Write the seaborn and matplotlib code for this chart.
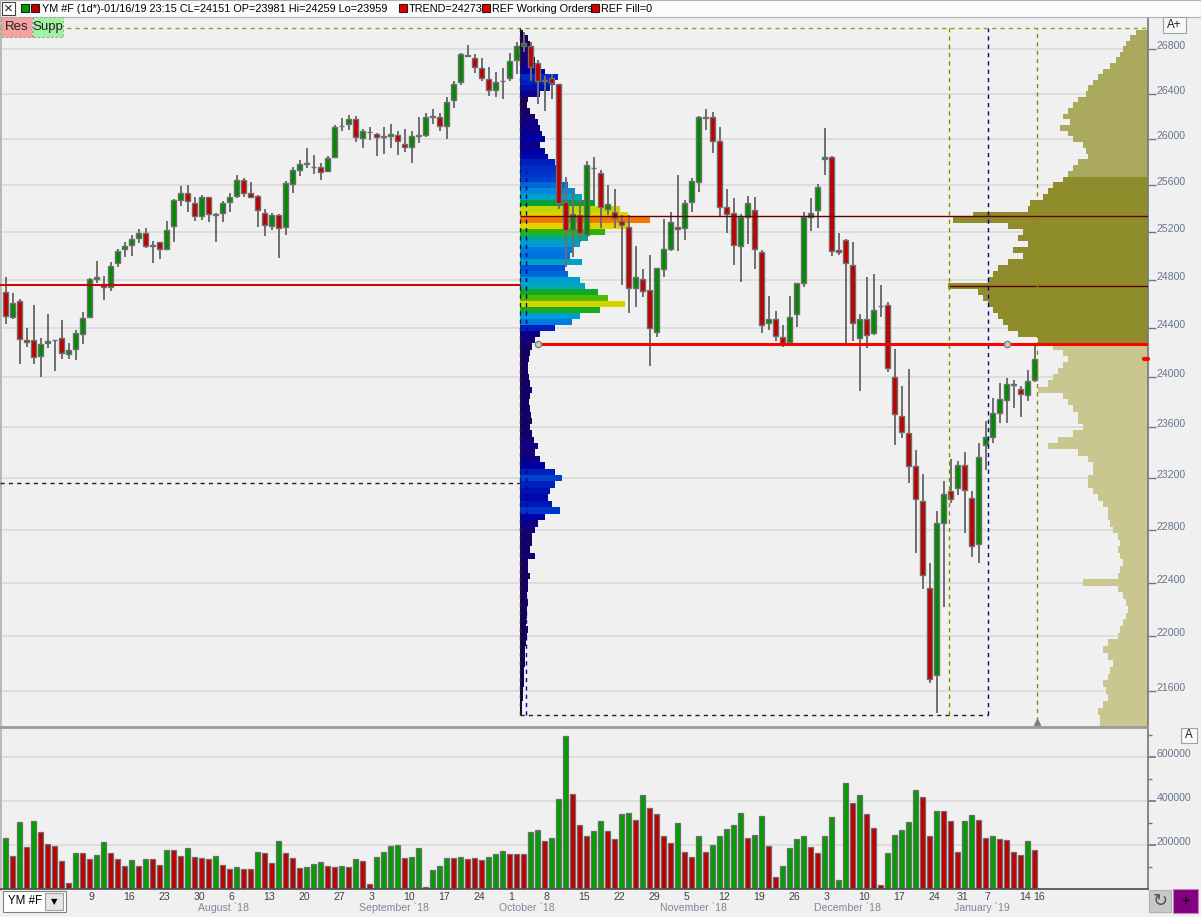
import numpy as np
import pandas as pd
import matplotlib
matplotlib.use('Agg')
import matplotlib.pyplot as plt
import matplotlib.patches as mpatches
from matplotlib.colors import LinearSegmentedColormap
from matplotlib.ticker import FixedLocator, NullLocator
import seaborn as sns

# ---- daily OHLC, YM #F, 2018-06-21 .. 2019-01-16 ----
opens = [24696, 24489, 24621, 24300, 24300, 24170, 24276, 24300, 24317, 24187,
         24228, 24352, 24489, 24809, 24767, 24737, 24938, 25055, 25089, 25148,
         25190, 25092, 25114, 25055, 25252, 25474, 25531, 25445, 25337, 25497,
         25354, 25360, 25454, 25505, 25643, 25531, 25508, 25360, 25255, 25346,
         25241, 25609, 25735, 25786, 25760, 25755, 25721, 25842, 26112, 26130,
         26180, 26007, 26063, 26048, 26024, 26025, 26033, 25960, 25929, 26030,
         26033, 26195, 26192, 26112, 26341, 26502, 26750, 26717, 26627, 26528,
         26430, 26510, 26538, 26699, 26830, 26830, 26678, 26510, 26538, 26484,
         25459, 25218, 25343, 25176, 25746, 25709, 25394, 25369, 25298, 25241,
         24729, 24803, 24715, 24371, 24887, 25055, 25240, 25233, 25454, 25632,
         26188, 26192, 25981, 25411, 25366, 25083, 25329, 25386, 25030, 24440,
         24477, 24330, 24284, 24516, 24775, 25331, 25389, 25824, 25842, 25050,
         25131, 24921, 24317, 24472, 24358, 24580, 24588, 24002, 23690, 23555,
         23293, 23021, 22357, 21713, 22856, 23101, 23121, 23301, 23044, 22690,
         23458, 23521, 23712, 23818, 23944, 23904, 23855, 23981]
highs = [24823, 24690, 24640, 24401, 24591, 24317, 24516, 24305, 24467, 24276,
         24385, 24531, 24814, 24957, 24834, 24949, 25058, 25117, 25173, 25227,
         25233, 25125, 25120, 25295, 25485, 25597, 25603, 25499, 25516, 25500,
         25366, 25465, 25531, 25689, 25663, 25628, 25516, 25397, 25366, 25350,
         25640, 25761, 25818, 25920, 25861, 25790, 25850, 26124, 26183, 26210,
         26201, 26086, 26104, 26057, 26104, 26130, 26072, 26089, 26072, 26192,
         26227, 26262, 26230, 26371, 26511, 26767, 26836, 26755, 26717, 26639,
         26594, 26633, 26762, 26860, 26951, 26860, 26702, 26556, 26576, 26490,
         25675, 25559, 25474, 25810, 25846, 25732, 25603, 25568, 25346, 25346,
         25083, 24887, 25008, 24898, 25309, 25369, 25689, 25474, 25660, 26206,
         26265, 26238, 26104, 25565, 25488, 25354, 25508, 25497, 25049, 24665,
         24541, 24426, 24665, 24775, 25371, 25488, 25611, 26095, 25856, 25190,
         25139, 25114, 24516, 24821, 24848, 24754, 24618, 24230, 23930, 24067,
         23421, 23233, 22550, 22946, 23178, 23348, 23335, 23408, 23101, 23479,
         23650, 23831, 23952, 23992, 23978, 23930, 24059, 24259]
lows = [24432, 24472, 24105, 24244, 24105, 24005, 24236, 24053, 24150, 24150,
        24142, 24268, 24481, 24775, 24634, 24709, 24904, 24991, 25002, 25111,
        25069, 24943, 24976, 25053, 25119, 25425, 25374, 25297, 25306, 25283,
        25119, 25286, 25374, 25491, 25497, 25493, 25246, 25170, 25218, 24985,
        25178, 25536, 25677, 25752, 25694, 25643, 25715, 25842, 26074, 26083,
        25977, 25926, 25995, 25850, 25873, 25926, 25861, 25888, 25795, 25964,
        26016, 26130, 26074, 26001, 26274, 26476, 26726, 26587, 26516, 26383,
        26374, 26356, 26511, 26574, 26770, 26510, 26309, 26244, 26356, 25397,
        24909, 24993, 25119, 25161, 25474, 25233, 25346, 25233, 24756, 24523,
        24577, 24654, 24091, 24330, 24825, 25044, 25044, 25134, 25374, 25545,
        26080, 25876, 25337, 25190, 24926, 24784, 25102, 24893, 24358, 24385,
        24292, 24249, 24276, 24412, 24737, 25212, 25233, 25689, 25002, 25008,
        24260, 24297, 23892, 24236, 24344, 24489, 24045, 23463, 23518, 23160,
        22621, 22350, 21659, 21440, 22219, 23007, 23069, 22774, 22595, 22546,
        23264, 23479, 23632, 23632, 23752, 23684, 23808, 23959]
closes = [24497, 24605, 24309, 24289, 24164, 24268, 24292, 24302, 24194, 24219,
          24358, 24481, 24806, 24823, 24737, 24918, 25039, 25081, 25139, 25190,
          25081, 25087, 25055, 25216, 25471, 25531, 25462, 25337, 25497, 25354,
          25345, 25445, 25497, 25643, 25531, 25502, 25386, 25258, 25346, 25233,
          25617, 25730, 25781, 25790, 25755, 25715, 25833, 26109, 26118, 26180,
          26016, 26069, 26066, 26016, 26018, 26042, 25984, 25929, 26030, 26036,
          26192, 26203, 26112, 26324, 26484, 26752, 26738, 26636, 26538, 26430,
          26502, 26515, 26690, 26824, 26850, 26640, 26516, 26520, 26494, 25445,
          25218, 25351, 25190, 25773, 25752, 25411, 25439, 25318, 25261, 24729,
          24825, 24706, 24399, 24896, 25055, 25289, 25225, 25445, 25640, 26192,
          26195, 25981, 25411, 25351, 25089, 25331, 25451, 25055, 24423, 24475,
          24335, 24271, 24494, 24770, 25331, 25366, 25588, 25842, 25044, 25035,
          24938, 24440, 24472, 24341, 24547, 24585, 24073, 23703, 23561, 23293,
          23036, 22455, 21684, 22851, 23074, 23036, 23301, 23109, 22677, 23363,
          23521, 23712, 23824, 23944, 23938, 23866, 23973, 24151]

# volume in thousands of contracts, bar colour as drawn in the volume pane
volume_k = [232, 150, 305, 191, 309, 259, 205, 195, 127, 27,
            164, 164, 136, 155, 214, 164, 136, 105, 132, 105,
            136, 136, 109, 177, 177, 150, 186, 145, 141, 136,
            150, 109, 91, 100, 91, 91, 168, 164, 118, 218,
            164, 141, 95, 100, 114, 123, 105, 100, 105, 100,
            136, 127, 23, 145, 168, 195, 200, 141, 145, 186,
            9, 86, 105, 141, 141, 145, 136, 141, 132, 145,
            159, 173, 159, 159, 159, 259, 268, 218, 232, 409,
            695, 432, 291, 241, 264, 309, 264, 227, 341, 345,
            314, 427, 368, 341, 241, 209, 300, 168, 145, 241,
            168, 200, 241, 273, 291, 345, 232, 245, 332, 195,
            55, 105, 186, 227, 241, 191, 164, 241, 327, 41,
            482, 391, 427, 341, 277, 18, 164, 245, 268, 305,
            450, 418, 241, 355, 355, 309, 168, 309, 336, 314,
            232, 241, 227, 223, 168, 155, 218, 177]
volume_dir = list("GRGRGRRRRR" "GRRGGRRRGR" "GRRGRRGRRR" "GRRGRRGRRG" "RRRGGGRRGR"
                  "GRRGGGGRGG" "RGGGRGRRRG" "GGRRRGGRGG" "GRRRGGRRGG" "RGRRRRGRRG"
                  "RGGGGGRGGR" "RGGGGRRGGG" "GRGRRRGGGG" "GRRGRRRGGR" "RGRRRRGR")

holidays = ['2018-12-25', '2019-01-01']

# volume-at-price, 50-point rows, lowest row first
left_profile_low = 21450
left_profile = [2, 2, 3, 3, 4, 4, 4, 5, 5, 5, 6,
                7, 8, 6, 7, 7, 8, 7, 8, 8, 10, 8, 8, 15, 10, 12, 12, 15, 18, 25, 40,
                32, 28, 30, 35, 42, 35, 25, 20, 15, 18, 14, 12, 10, 12, 11, 10, 9, 10, 12, 10,
                9, 8, 8, 9, 10, 12, 15, 20, 35, 52, 60, 80, 105, 88, 78, 65, 60, 48, 45, 62,
                50, 52, 60, 68, 85, 110, 130, 108, 100, 75, 62, 55, 48, 42, 40, 38, 35, 28, 25, 20,
                25, 22, 20, 18, 15, 10, 7, 8, 20, 30, 35, 38, 25, 20, 15, 14, 12, 10, 8, 3]
right_profile_low = 21350
right_profile = [48, 48, 50, 45, 40, 42, 45, 40, 38, 35, 40, 45, 40,
                 30, 28, 25, 22, 20, 22, 25, 30, 65, 30, 28, 25, 28, 30, 28, 30, 35, 38, 40, 40,
                 45, 50, 55, 60, 60, 55, 55, 60, 70, 100, 90, 75, 65, 70, 70, 75, 80, 85, 110, 100,
                 95, 90, 85, 80, 85, 95, 110, 130, 140, 145, 150, 155, 160, 165, 170, 200, 160, 155, 150, 140,
                 125, 135, 120, 130, 125, 140, 195, 175, 120, 118, 105, 100, 95, 85, 80, 75, 70, 60, 62, 65,
                 75, 80, 88, 78, 85, 80, 75, 70, 62, 60, 55, 50, 45, 38, 32, 28, 25, 22, 18, 12]

price_ticks = [21600, 22000, 22400, 22800, 23200, 23600, 24000, 24400,
               24800, 25200, 25600, 26000, 26400, 26800]
volume_ticks = [200000, 400000, 600000]

trend_level = 24273
ref_level = 24758
support_level = 23160
poc_level = 25335
session_high = 26990
profile_low = 21426

# ---- colours ----
BG = '#f0f0f0'
UP = '#008c00'
DOWN = '#c00000'
EDGE = '#6e6e6e'
AXIS_TXT = '#66758c'

sns.set_theme(style='white', rc={'axes.facecolor': BG, 'figure.facecolor': BG})
plt.rcParams['font.family'] = ['Liberation Sans', 'DejaVu Sans']

dates = pd.bdate_range('2018-06-21', '2019-01-16')
dates = dates[~dates.isin(pd.to_datetime(holidays))]
df = pd.DataFrame({'date': dates, 'open': opens, 'high': highs, 'low': lows,
                   'close': closes, 'volume': np.array(volume_k) * 1000,
                   'dir': volume_dir})
df['i'] = np.arange(len(df))

W, H = 1201, 917
fig = plt.figure(figsize=(W / 100, H / 100), dpi=100)


def box(x0, y0, x1, y1, fc, ec='none', lw=0.8, ls='-', z=5):
    r = mpatches.Rectangle((x0 / W, 1 - y1 / H), (x1 - x0) / W, (y1 - y0) / H,
                           transform=fig.transFigure, facecolor=fc, edgecolor=ec,
                           linewidth=lw, linestyle=ls, zorder=z)
    fig.add_artist(r)


def label(x, y, s, **kw):
    kw.setdefault('va', 'center')
    kw.setdefault('zorder', 6)
    fig.text(x / W, 1 - y / H, s, **kw)


ax = fig.add_axes([0, 1 - 727 / H, 1148 / W, (727 - 18) / H])
axv = fig.add_axes([0, 1 - 889 / H, 1148 / W, (889 - 728) / H], sharex=ax)
XL, XR = -0.79, 163.2

# ---- price pane ----
ax.set_yscale('log')
ax.set_ylim(21338, 27081)
ax.yaxis.set_major_locator(FixedLocator(price_ticks))
ax.yaxis.set_minor_locator(NullLocator())
ax.yaxis.tick_right()
ax.tick_params(axis='y', which='major', length=6, width=1, color='#777777',
               labelright=False, direction='out')
ax.tick_params(axis='x', length=0, labelbottom=False)
ax.grid(axis='y', color='#dcdcdc', lw=1.3)
ax.set_axisbelow(True)
for p in price_ticks:
    ax.text(1.0075, p, str(p), transform=ax.get_yaxis_transform(), va='baseline',
            ha='left', fontsize=7.6, color=AXIS_TXT, clip_on=False)

# volume profile of the Oct-Jan range (left anchored)
lp = np.array(left_profile)
lp_price = left_profile_low + 50 * np.arange(len(lp))
jet = LinearSegmentedColormap.from_list('vp', [
    (0.0, '#14003c'), (0.1, '#1a006a'), (0.2, '#0000a8'), (0.3, '#0030c8'),
    (0.38, '#0070dc'), (0.45, '#0098e0'), (0.51, '#00aab0'), (0.57, '#00a040'),
    (0.66, '#30b400'), (0.74, '#b8d600'), (0.85, '#e8d200'), (1.0, '#f07800')])
ax.barh(lp_price, lp / 7.0, left=73.5, height=50, color=jet(lp / lp.max()),
        lw=0, zorder=2)

# composite profile (right anchored)
rp = np.array(right_profile)
rp_price = right_profile_low + 50 * np.arange(len(rp))
rp_col = np.where(rp_price > 25650, '#aba95e',
                  np.where(rp_price >= 24300, '#8f8d2b', '#c9c68f'))
ax.barh(rp_price, rp / 7.0, left=XR - rp / 7.0, height=50, color=rp_col,
        lw=0, zorder=1)

# candles
up = df['close'] >= df['open']
body_lo = np.minimum(df['open'], df['close'])
body_h = (df['close'] - df['open']).abs()
ax.vlines(df['i'], df['low'], df['high'], color=EDGE, lw=1.4, zorder=3)
ax.bar(df['i'], body_h, bottom=body_lo, width=0.72,
       color=np.where(up, UP, DOWN), edgecolor=EDGE, lw=1.0, zorder=4)

# reference lines
ax.axhline(session_high, color='#a0a000', lw=1, ls=(0, (3, 3)), zorder=5)
ax.hlines(ref_level, XL, 73.7, color='#cc0000', lw=1.4, zorder=5)
ax.hlines(support_level, XL, 73.5, color='#202020', lw=1, ls=(0, (3, 3)), zorder=5)
ax.hlines(poc_level, 73.5, XR, color='#6a0000', lw=1.0, zorder=5)
ax.hlines(24750, 134.8, XR, color='#5a0000', lw=1.0, zorder=5)
ax.hlines(trend_level, 76.4, XR, color='#ff0000', lw=2.2, zorder=6)
ax.plot([76.0, 143.0], [trend_level, trend_level], 'o', ms=4.5,
        mfc='#c8c8c8', mec='#808080', zorder=7)
ax.vlines(73.5, profile_low, session_high, color='#202020', lw=1, ls=(0, (3, 3)), zorder=5)
ax.vlines(74.36, profile_low, 25720, color='#0000a0', lw=1, ls=(0, (3, 3)), zorder=5)
ax.hlines(profile_low, 73.5, 140.36, color='#202020', lw=1, ls=(0, (3, 3)), zorder=5)
ax.vlines(140.36, profile_low, session_high, color='#0000a0', lw=1, ls=(0, (3, 3)), zorder=5)
ax.vlines(134.8, profile_low, session_high, color='#8a8a00', lw=1, ls=(0, (3, 3)), zorder=5)
ax.vlines(147.4, 21380, session_high, color='#8a8a00', lw=1, ls=(0, (3, 3)), zorder=5)
ax.plot([147.4], [21372], '^', ms=5, color='#808080', zorder=7, clip_on=False)
ax.plot([XR - 0.6, XR], [closes[-1], closes[-1]], color='#ff0000', lw=3,
        zorder=7, clip_on=False)

ax.spines['top'].set_visible(False)
ax.spines['right'].set_color('#7a7a7a')
ax.spines['left'].set_color('#b8b8b8')
ax.spines['left'].set_linewidth(2)
ax.spines['bottom'].set_color('#9a9a9a')

# ---- volume pane ----
sns.barplot(data=df, x='i', y='volume', hue='dir', palette={'G': '#00a000', 'R': DOWN},
            native_scale=True, dodge=False, width=0.72, saturation=1,
            edgecolor=EDGE, linewidth=0.9, errorbar=None, legend=False, ax=axv)
axv.set_xlim(XL, XR)
axv.set_ylim(0, 731700)
axv.set_xlabel('')
axv.set_ylabel('')
axv.yaxis.set_major_locator(FixedLocator(volume_ticks))
axv.yaxis.set_minor_locator(FixedLocator([100000, 300000, 500000, 700000]))
axv.yaxis.tick_right()
axv.tick_params(axis='y', which='major', length=6, color='#777777', labelright=False)
axv.tick_params(axis='y', which='minor', length=3, color='#777777')
axv.grid(axis='y', which='major', color='#dcdcdc', lw=1.3)
axv.set_axisbelow(True)
for v in volume_ticks:
    axv.text(1.0075, v, str(v), transform=axv.get_yaxis_transform(), va='baseline',
             ha='left', fontsize=7.6, color=AXIS_TXT, clip_on=False)
axv.spines['top'].set_color('#9a9a9a')
axv.spines['right'].set_color('#7a7a7a')
axv.spines['left'].set_color('#b8b8b8')
axv.spines['left'].set_linewidth(2)
axv.spines['bottom'].set_color('#505050')

# date axis: first session of each week plus the last session
week = dates.isocalendar().week.values
starts = [0] + [k for k in range(1, len(dates)) if week[k] != week[k - 1]] + [len(dates) - 1]
starts = [k for k in starts if k > 9]
axv.set_xticks([k - 0.35 for k in starts])
axv.tick_params(axis='x', length=6, width=1, color='#505050', labelbottom=False,
                direction='out')
for k in starts:
    axv.text(k - 0.2, -0.05, str(dates[k].day), transform=axv.get_xaxis_transform(),
             ha='left', va='center', fontsize=7.6, color='#404040')
month_first = df.groupby(df['date'].dt.to_period('M'))['i'].min()
for per, k in month_first.items():
    if k < 20:
        continue
    axv.text(k - 1.5, -0.118, f"{per.strftime('%B')} `{per.strftime('%y')}",
             transform=axv.get_xaxis_transform(), ha='left', va='center',
             fontsize=7.6, color='#7d8799')

# ---- title bar and widgets ----
box(0, 0, W, 17, '#fbfbfb', ec='#b0b0b0', lw=0.8, z=4)
box(2, 2, 15, 15, '#ffffff', ec='#404040', lw=0.8)
label(8.5, 8.5, '×', ha='center', fontsize=11, color='#202020')
box(21, 4, 29, 12, '#00a000', ec='#202020', lw=0.8)
box(31, 4, 39, 12, '#c00000', ec='#202020', lw=0.8)
label(42, 9, 'YM #F (1d*)-01/16/19 23:15 CL=24151 OP=23981 Hi=24259 Lo=23959',
      fontsize=7.85, color='black')
for x0, txt in [(399, 'TREND=24273'), (482, 'REF Working Orders'), (591, 'REF Fill=0')]:
    box(x0, 4, x0 + 8, 12, '#e00000', ec='#202020', lw=0.8)
    label(x0 + 10, 9, txt, fontsize=7.85, color='black')

box(1, 17, 32, 37, '#f4a3a3', ec='#a0a0a0', lw=0.8, ls=(0, (2, 2)))
box(33, 17, 63, 37, '#a3f2a3', ec='#a0a0a0', lw=0.8, ls=(0, (2, 2)))
label(16.5, 27, 'Res', ha='center', fontsize=9.5, color='#202020')
label(48, 27, 'Supp', ha='center', fontsize=9.5, color='#202020')
box(1163, 17, 1186, 33, '#f8f8f8', ec='#a0a0a0', lw=0.8)
label(1174.5, 25, 'A+', ha='center', fontsize=8.3, color='#202020')
box(1181, 728, 1197, 743, '#f8f8f8', ec='#a0a0a0', lw=0.8)
label(1189, 735.5, 'A', ha='center', fontsize=8.3, color='#202020')

box(3, 891, 66, 912, '#ffffff', ec='#808080', lw=0.8)
label(8, 901.5, 'YM #F', fontsize=8.3, color='black')
box(45, 893, 63, 910, '#e6e6e6', ec='#a0a0a0', lw=0.8)
label(54, 901.5, '▼', ha='center', fontsize=6, color='black', family='DejaVu Sans')
box(1149, 890, 1171, 912, '#c8c8c8', ec='#b0b0b0', lw=0.8)
label(1160, 901, '↻', ha='center', fontsize=13, color='#505050', family='DejaVu Sans')
box(1173, 889, 1198, 913, '#800080', ec='#c080c0', lw=0.8)
label(1185.5, 901, '+', ha='center', fontsize=10, color='black')

fig.savefig('out.png', dpi=100, facecolor=BG)
